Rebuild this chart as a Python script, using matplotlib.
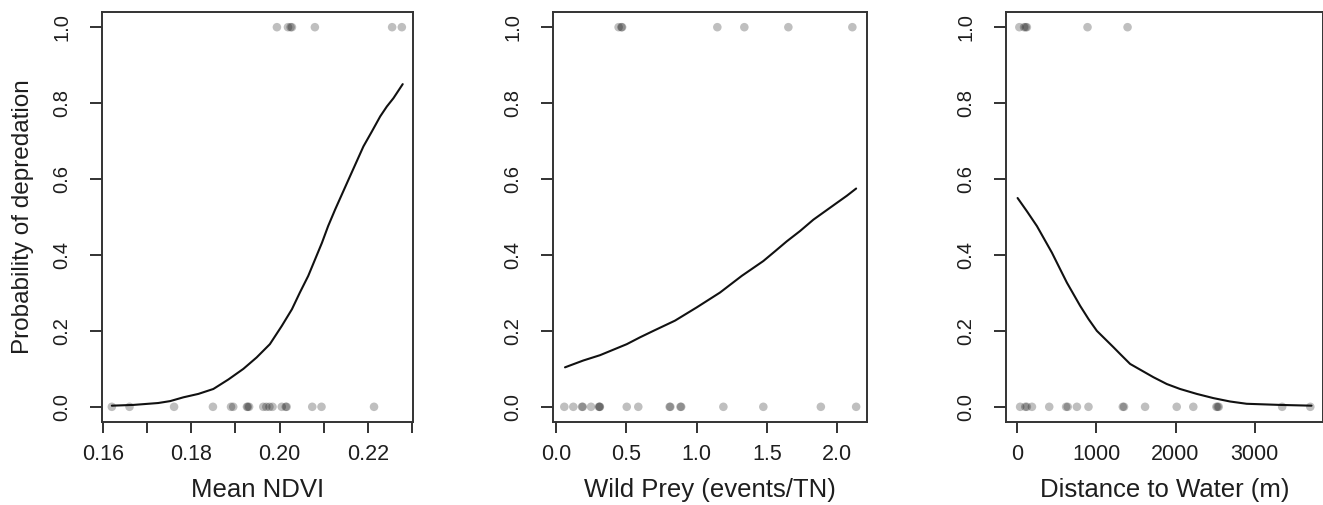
import numpy as np
import matplotlib
matplotlib.use("Agg")
import matplotlib.pyplot as plt

plt.rcParams["font.family"] = ["Liberation Sans", "DejaVu Sans"]

# ---- observed outcomes (0 = no depredation, 1 = depredation) ----
ndvi_absent = [0.1620, 0.1660, 0.1761, 0.1849, 0.1890, 0.1895, 0.1926, 0.1928,
               0.1931, 0.1963, 0.1970, 0.1977, 0.1984, 0.2005, 0.2014, 0.2016,
               0.2074, 0.2095, 0.2214]
ndvi_present = [0.1994, 0.2019, 0.2025, 0.2028, 0.2080, 0.2255, 0.2277]

prey_absent = [0.059, 0.123, 0.185, 0.190, 0.249, 0.305, 0.310, 0.312, 0.503,
               0.585, 0.808, 0.813, 0.885, 0.890, 1.190, 1.474, 1.883, 2.134]
prey_present = [0.445, 0.465, 0.470, 1.147, 1.339, 1.652, 2.107]

water_absent = [40, 105, 125, 189, 407, 620, 640, 756, 902, 1335, 1350, 1616,
                2015, 2224, 2515, 2530, 2545, 3345, 3700]
water_present = [30, 90, 110, 125, 890, 1395]

# ---- fitted probability curves ----
ndvi_curve_x = [0.1620, 0.1669, 0.1725, 0.1752, 0.1782, 0.1816, 0.1850, 0.1884,
                0.1918, 0.1948, 0.1978, 0.2005, 0.2028, 0.2046, 0.2065, 0.2096,
                0.2110, 0.2126, 0.2141, 0.2156, 0.2190, 0.2209, 0.2228, 0.2243,
                0.2258, 0.2279]
ndvi_curve_p = [0.003, 0.005, 0.010, 0.015, 0.025, 0.034, 0.047, 0.072,
                0.100, 0.130, 0.165, 0.213, 0.257, 0.301, 0.345, 0.432,
                0.476, 0.520, 0.559, 0.598, 0.686, 0.725, 0.765, 0.791,
                0.813, 0.850]

prey_curve_x = [0.064, 0.194, 0.313, 0.503, 0.597, 0.692, 0.846, 1.001, 1.166,
                1.321, 1.474, 1.558, 1.641, 1.735, 1.830, 1.996, 2.068, 2.134]
prey_curve_p = [0.104, 0.122, 0.136, 0.165, 0.183, 0.200, 0.227, 0.262, 0.301,
                0.345, 0.384, 0.410, 0.436, 0.463, 0.493, 0.537, 0.556, 0.575]

water_curve_x = [8, 126, 252, 441, 546, 630, 797, 903, 1008, 1217, 1302, 1427,
                 1721, 1890, 2057, 2268, 2476, 2688, 2897, 3316, 3715]
water_curve_p = [0.550, 0.515, 0.476, 0.406, 0.362, 0.327, 0.266, 0.231, 0.200,
                 0.157, 0.139, 0.113, 0.078, 0.060, 0.047, 0.034, 0.023, 0.014,
                 0.008, 0.005, 0.003]

# ---- axis labels and ticks ----
xlabels = ["Mean NDVI", "Wild Prey (events/TN)", "Distance to Water (m)"]
ylabel = "Probability of depredation"
y_ticks = [0.0, 0.2, 0.4, 0.6, 0.8, 1.0]
ndvi_ticks = [0.16, 0.17, 0.18, 0.19, 0.20, 0.21, 0.22, 0.23]
ndvi_ticklabels = ["0.16", "", "0.18", "", "0.20", "", "0.22", ""]
prey_ticks = [0.0, 0.5, 1.0, 1.5, 2.0]
prey_ticklabels = ["0.0", "0.5", "1.0", "1.5", "2.0"]
water_ticks = [0, 1000, 2000, 3000]
water_ticklabels = ["0", "1000", "2000", "3000"]

W, H = 1323, 505
fig = plt.figure(figsize=(W / 100, H / 100), dpi=100)

# panel boxes in pixels: (left, right)
boxes = [(102, 413), (552.7, 866.7), (1005.7, 1323)]
top_px, bottom_px = 12, 422
xlims = [(0.15977, 0.23023), (-0.0235, 2.209), (-142, 3860)]

panels = [
    (ndvi_absent, ndvi_present, ndvi_curve_x, ndvi_curve_p, ndvi_ticks, ndvi_ticklabels),
    (prey_absent, prey_present, prey_curve_x, prey_curve_p, prey_ticks, prey_ticklabels),
    (water_absent, water_present, water_curve_x, water_curve_p, water_ticks, water_ticklabels),
]

pt_color = (0, 0, 0, 0.25)
ink = "#1e1e1e"

for i, ((x0, x1), lims, data) in enumerate(zip(boxes, xlims, panels)):
    absent, present, cx, cp, xt, xtl = data
    ax = fig.add_axes([x0 / W, (H - bottom_px) / H, (x1 - x0) / W,
                       (bottom_px - top_px) / H])
    ax.scatter(absent, np.zeros(len(absent)), s=38, color=pt_color,
               edgecolors="none", zorder=2)
    ax.scatter(present, np.ones(len(present)), s=38, color=pt_color,
               edgecolors="none", zorder=2)
    ax.plot(cx, cp, color="#111111", lw=1.5, zorder=3,
            solid_joinstyle="round", solid_capstyle="round")

    ax.set_xlim(*lims)
    ax.set_ylim(-0.04, 1.04)
    ax.set_xticks(xt)
    ax.set_xticklabels(xtl, fontsize=15.5, color=ink)
    ax.set_yticks(y_ticks)
    ax.set_yticklabels([f"{v:.1f}" for v in y_ticks], fontsize=14.5,
                       rotation=90, va="center", color=ink)
    ax.tick_params(axis="x", length=8, width=1.3, pad=8, color="#222222")
    ax.tick_params(axis="y", length=9, width=1.3, pad=13, color="#222222")
    for sp in ax.spines.values():
        sp.set_linewidth(1.4)
        sp.set_color("#333333")
    ax.set_xlabel(xlabels[i], fontsize=18.5, labelpad=9, color=ink)
    if i == 0:
        ax.set_ylabel(ylabel, fontsize=17.5, labelpad=13, color=ink)

fig.savefig("out.png", dpi=100)
